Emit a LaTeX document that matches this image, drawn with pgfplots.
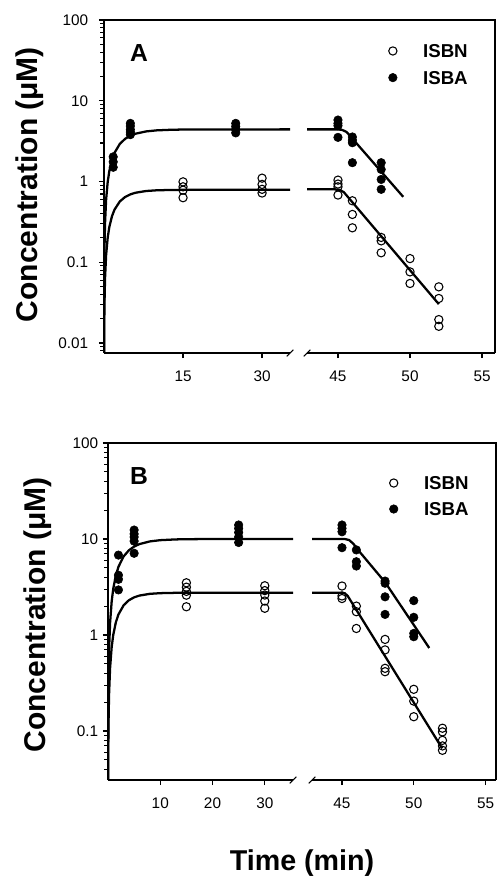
\documentclass[border=0pt]{standalone}
\usepackage{fontspec}
\setmainfont{Liberation Sans}
\usepackage{pgfplots}
\pgfplotsset{compat=1.18}

\tikzset{
  fitline/.style={no marks, line width=1.7pt, black},
  isbn/.style={only marks, mark=o, mark size=3.1pt,
    mark options={line width=0.8pt, black},
    /pgfplots/legend image code/.code={\draw[##1] plot coordinates {(0pt,0pt)};}},
  isba/.style={only marks, mark=*, mark size=3.2pt,
    mark options={black, fill=black},
    /pgfplots/legend image code/.code={\draw[##1] plot coordinates {(0pt,0pt)};}},
}

\pgfplotsset{
  conc/.style={
    scale only axis, enlargelimits=false,
    axis line style={line width=1.2pt, black},
    tick align=outside, major tick length=3.8pt,
    major tick style={line width=0.9pt, black},
    tick label style={font=\fontsize{11.5}{12}\selectfont},
    xticklabel style={yshift=-6pt},
    /pgf/number format/assume math mode=true,
  },
  leftseg/.style={conc, axis x line*=bottom, axis y line*=left,
    xmin=0, log ticks with fixed point, yminorticks=false, xminorticks=false,
    extra y tick labels={},
    extra y tick style={major tick length=2.9pt,
      major tick style={line width=0.8pt, black}},
    ylabel={Concentration (μM)},
    every axis y label/.style={rotate=90, anchor=center,
      font=\bfseries\fontsize{22.5}{24}\selectfont},
  },
  rightseg/.style={conc, axis x line*=bottom, axis y line=none,
    ytick=\empty, yminorticks=false, xminorticks=false, xtick={45,50,55},
    legend cell align=left,
  },
}

\begin{document}
\begin{tikzpicture}
\useasboundingbox (0,0) rectangle (372.75pt,-658.5pt);

% ---------------- panel A ----------------
\begin{axis}[ymode=log, leftseg, name=LA,
  at={(78pt,-264.75pt)}, anchor=south west,
  width=139.5pt, height=249.75pt,
  xmax=35.3, ymin=0.00752, ymax=100,
  xtick={15,30},
  ytick={0.01,0.1,1,10,100},
  extra y ticks={0.008,0.009,0.02,0.03,0.04,0.05,0.06,0.07,0.08,0.09,
    0.2,0.3,0.4,0.5,0.6,0.7,0.8,0.9,2,3,4,5,6,7,8,9,
    20,30,40,50,60,70,80,90},
  yticklabel style={xshift=-4.5pt},
  ylabel style={at={(axis description cs:-0.398,0.506)}},
]
  \addplot[fitline] coordinates {
    (0.001,0.0016)(0.005,0.00795)(0.02,0.0317)(0.05,0.0789)(0.1,0.1563)
    (0.2,0.307)(0.4,0.593)(0.7,0.984)(1,1.336)(1.5,1.844)(2,2.269)
    (3,2.919)(4,3.373)(5,3.689)(6,3.910)(8,4.172)(10,4.299)(13,4.379)
    (16,4.406)(20,4.417)(35.3,4.42)};
  \addplot[fitline] coordinates {
    (0.01,0.00331)(0.03,0.00989)(0.06,0.01966)(0.1,0.0325)(0.2,0.0637)
    (0.4,0.1221)(0.7,0.2013)(1,0.2710)(1.5,0.3693)(2,0.4490)(3,0.5659)
    (4,0.6427)(5,0.6932)(6,0.7264)(8,0.7626)(10,0.7782)(13,0.7866)
    (16,0.7891)(35.3,0.79)};
  \addplot[isbn] coordinates {
    (15,0.99)(15,0.86)(15,0.78)(15,0.63)
    (30,1.1)(30,0.92)(30,0.8)(30,0.72)};
  \addplot[isba] coordinates {
    (1.75,2.02)(1.75,1.75)(1.75,1.5)
    (5,5.25)(5,4.85)(5,4.4)(5,4.1)(5,3.8)
    (25,5.25)(25,4.8)(25,4.4)(25,4.0)};
  \node[font=\bfseries\fontsize{18.5}{20}\selectfont]
    at (axis description cs:0.188,0.90) {A};
\end{axis}

\begin{axis}[ymode=log, rightseg, name=RA,
  at={(230.25pt,-264.75pt)}, anchor=south west,
  width=141pt, height=249.75pt,
  xmin=42.85, xmax=55.9, ymin=0.00752, ymax=100,
  legend style={draw=none, fill=none, inner sep=0pt, outer sep=0pt,
    row sep=10pt, font=\bfseries\fontsize{14}{16}\selectfont,
    nodes={inner sep=0pt, text height=10pt, text depth=0pt},
    /tikz/every odd column/.append style={column sep=19.5pt},
    at={(axis description cs:0.434,0.927)}, anchor=north west},
]
  \addplot[fitline, forget plot] coordinates {
    (42.85,4.42)(45.0,4.42)(45.3,4.35)(45.6,4.1)(49.53,0.646)};
  \addplot[fitline, forget plot] coordinates {
    (42.85,0.80)(44.8,0.80)(45.1,0.79)(45.4,0.74)(52.0,0.0303)};
  \addplot[isbn] coordinates {
    (45,1.04)(45,0.93)(45,0.86)(45,0.68)
    (46,0.577)(46,0.391)(46,0.267)
    (48,0.203)(48,0.184)(48,0.131)
    (50,0.111)(50,0.076)(50,0.0546)
    (52,0.0496)(52,0.0356)(52,0.0195)(52,0.0161)};
  \addlegendentry{ISBN}
  \addplot[isba] coordinates {
    (45,5.77)(45,5.25)(45,4.9)(45,3.52)
    (46,3.56)(46,3.25)(46,3.02)(46,1.71)
    (48,1.71)(48,1.41)(48,1.06)(48,0.80)};
  \addlegendentry{ISBA}
\end{axis}

\draw[line width=1.2pt] (LA.north west) -- (RA.north east) -- (RA.south east);
\draw[line width=0.8pt] (LA.south east) ++(-2.5pt,-2.5pt) -- ++(5pt,5pt);
\draw[line width=0.8pt] (RA.south west) ++(-2.5pt,-2.5pt) -- ++(5pt,5pt);

% ---------------- panel B ----------------
\begin{axis}[ymode=log, leftseg, name=LB,
  at={(81pt,-585pt)}, anchor=south west,
  width=138.75pt, height=252.75pt,
  xmax=35.4, ymin=0.0309, ymax=100,
  xtick={10,20,30},
  ytick={0.1,1,10,100},
  extra y ticks={0.04,0.05,0.06,0.07,0.08,0.09,
    0.2,0.3,0.4,0.5,0.6,0.7,0.8,0.9,2,3,4,5,6,7,8,9,
    20,30,40,50,60,70,80,90},
  ylabel style={at={(axis description cs:-0.381,0.49)}},
]
  \addplot[fitline] coordinates {
    (0.001,0.0036)(0.005,0.018)(0.02,0.0717)(0.05,0.1784)(0.1,0.3535)
    (0.2,0.6947)(0.4,1.341)(0.7,2.227)(1,3.023)(1.5,4.173)(2,5.133)
    (3,6.604)(4,7.631)(5,8.347)(6,8.847)(8,9.439)(10,9.727)(13,9.907)
    (16,9.968)(20,9.993)(35.4,10)};
  \addplot[fitline] coordinates {
    (0.005,0.0062)(0.01,0.0124)(0.03,0.0370)(0.06,0.0735)(0.1,0.1214)
    (0.2,0.2376)(0.4,0.4546)(0.7,0.7458)(1,1.000)(1.5,1.355)(2,1.638)
    (3,2.045)(4,2.304)(5,2.469)(6,2.575)(8,2.685)(10,2.729)(13,2.752)
    (16,2.758)(35.4,2.76)};
  \addplot[isbn] coordinates {
    (15,3.5)(15,3.15)(15,2.85)(15,2.6)(15,1.97)
    (30,3.26)(30,2.9)(30,2.61)(30,2.26)(30,1.9)};
  \addplot[isba] coordinates {
    (2,6.8)(2,4.2)(2,3.8)(2,2.95)
    (5,12.4)(5,11.3)(5,10.5)(5,9.5)(5,7.1)
    (25,14.0)(25,12.9)(25,11.7)(25,10.5)(25,9.2)};
  \node[font=\bfseries\fontsize{18.5}{20}\selectfont]
    at (axis description cs:0.168,0.902) {B};
\end{axis}

\begin{axis}[ymode=log, rightseg, name=RB,
  at={(234pt,-585pt)}, anchor=south west,
  width=138pt, height=252.75pt,
  xmin=42.91, xmax=55.73, ymin=0.0309, ymax=100,
  legend style={draw=none, fill=none, inner sep=0pt, outer sep=0pt,
    row sep=9.5pt, font=\bfseries\fontsize{14}{16}\selectfont,
    nodes={inner sep=0pt, text height=10pt, text depth=0pt},
    /tikz/every odd column/.append style={column sep=19.5pt},
    at={(axis description cs:0.421,0.901)}, anchor=north west},
]
  \addplot[fitline, forget plot] coordinates {
    (42.91,10)(45.2,10)(45.5,9.75)(45.8,8.9)(46.1,7.75)(48,3.55)(51.08,0.733)};
  \addplot[fitline, forget plot] coordinates {
    (42.91,2.76)(45.0,2.76)(45.2,2.72)(45.4,2.55)(51.98,0.066)};
  \addplot[isbn] coordinates {
    (45,3.24)(45,2.55)(45,2.4)
    (46,2.0)(46,1.75)(46,1.17)
    (48,0.90)(48,0.70)(48,0.45)(48,0.415)
    (50,0.272)(50,0.205)(50,0.141)
    (52,0.107)(52,0.098)(52,0.08)(52,0.07)(52,0.063)};
  \addlegendentry{ISBN}
  \addplot[isba] coordinates {
    (45,14.0)(45,12.9)(45,11.9)(45,8.12)
    (46,7.7)(46,5.8)(46,5.23)
    (48,3.65)(48,3.46)(48,2.5)(48,1.64)
    (50,2.28)(50,1.53)(50,1.04)(50,0.96)};
  \addlegendentry{ISBA}
\end{axis}

\draw[line width=1.2pt] (LB.north west) -- (RB.north east) -- (RB.south east);
\draw[line width=0.8pt] (LB.south east) ++(-2.5pt,-2.5pt) -- ++(5pt,5pt);
\draw[line width=0.8pt] (RB.south west) ++(-2.5pt,-2.5pt) -- ++(5pt,5pt);

\node[font=\bfseries\fontsize{21.5}{24}\selectfont] at (226.5pt,-647.25pt) {Time (min)};
\end{tikzpicture}
\end{document}
